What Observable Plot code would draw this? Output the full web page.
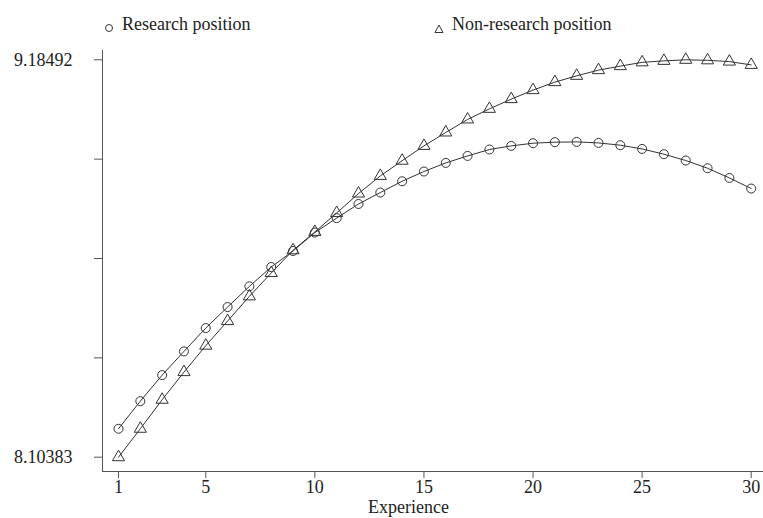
<!DOCTYPE html>
<html><head><meta charset="utf-8">
<script src="https://cdn.jsdelivr.net/npm/d3@7"></script>
<script src="https://cdn.jsdelivr.net/npm/@observablehq/plot@0.6"></script>
<style>
body{margin:0;background:#fff;}
#wrap{position:relative;width:763px;height:518px;font-family:"Liberation Serif","Times New Roman",serif;color:#222;}
#legend{position:relative;height:40px;width:763px;font-size:18px;}
#legend .sym{position:absolute;}
#legend .lab{position:absolute;line-height:18px;white-space:nowrap;}
</style></head><body>
<div id="wrap"><div id="legend"></div><div id="chart"></div></div>
<script>
const experience = [1,2,3,4,5,6,7,8,9,10,11,12,13,14,15,16,17,18,19,20,21,22,23,24,25,26,27,28,29,30];
const research = [8.1812,8.2563,8.3271,8.3916,8.4551,8.5123,8.5686,8.6212,8.6648,8.7149,8.7543,8.7927,8.8238,8.8545,8.8810,8.9044,8.9234,8.9409,8.9507,8.9580,8.9608,8.9616,8.9588,8.9526,8.9425,8.9281,8.9109,8.8899,8.8635,8.8347];
const nonResearch = [8.10383,8.1812,8.2601,8.3353,8.4072,8.4742,8.5414,8.6049,8.6667,8.7166,8.7683,8.8211,8.8690,8.9104,8.9507,8.9872,9.0226,9.0515,9.0779,9.1024,9.1242,9.1413,9.1568,9.1677,9.1780,9.1820,9.18492,9.1835,9.1800,9.1710];
const seriesNames = ["Research position","Non-research position"];
const yTicks = [8.10383,8.374103,8.644375,8.914648,9.18492];
const yTickLabels = ["8.10383","","","","9.18492"];
const xTicks = [1,5,10,15,20,25,30];

// legend
const legend = document.getElementById("legend");
const legendItems = [
  {name: seriesNames[0], sym: '<circle cx="7" cy="7" r="3.5" fill="none" stroke="#333" stroke-width="1"/>', sx: 102, sy: 19, tx: 122},
  {name: seriesNames[1], sym: '<path d="M7,3 L11,10.5 L3,10.5 Z" fill="none" stroke="#333" stroke-width="1"/>', sx: 432, sy: 20, tx: 452}
];
for (const it of legendItems) {
  const s = document.createElement("div");
  s.className = "sym";
  s.style.left = it.sx + "px"; s.style.top = it.sy + "px";
  s.innerHTML = '<svg width="14" height="14">' + it.sym + '</svg>';
  legend.appendChild(s);
  const t = document.createElement("div");
  t.className = "lab";
  t.style.left = it.tx + "px"; t.style.top = "15px";
  t.textContent = it.name;
  legend.appendChild(t);
}

const data = experience.flatMap((e, i) => [
  {x: e, y: research[i], s: seriesNames[0]},
  {x: e, y: nonResearch[i], s: seriesNames[1]}
]);

const plot = Plot.plot({
  width: 763, height: 478,
  marginLeft: 102, marginRight: 0, marginTop: 10, marginBottom: 47,
  insetLeft: 16, insetRight: 12.3, insetTop: 9.3, insetBottom: 14.3,
  style: {fontFamily: "Liberation Serif, Times New Roman, serif", fontSize: "18px", color: "#222", background: "#fff", overflow: "visible"},
  x: {domain: [1, 30]},
  y: {domain: [8.10383, 9.18492]},
  symbol: {domain: seriesNames, range: ["circle", "triangle"]},
  marks: [
    Plot.frame({anchor: "left", stroke: "#555"}),
    Plot.frame({anchor: "bottom", stroke: "#555"}),
    Plot.axisY({ticks: yTicks, tickSize: 8, tickPadding: 22, tickFormat: d => yTickLabels[yTicks.indexOf(d)], label: null, stroke: "#555"}),
    Plot.axisX({ticks: xTicks, tickSize: 7, tickPadding: 2, tickFormat: d => String(d), label: null, stroke: "#555"}),
    Plot.line(data, {x: "x", y: "y", z: "s", stroke: "#333", strokeWidth: 1}),
    Plot.dot(data, {x: "x", y: "y", symbol: "s", r: 4.5, stroke: "#333", fill: "none", strokeWidth: 1}),
    Plot.text(["Experience"], {frameAnchor: "bottom", lineAnchor: "middle", dx: -24.5, dy: 36, fontSize: 18, fill: "#222"})
  ]
});
document.getElementById("chart").appendChild(plot);
</script>
</body></html>
